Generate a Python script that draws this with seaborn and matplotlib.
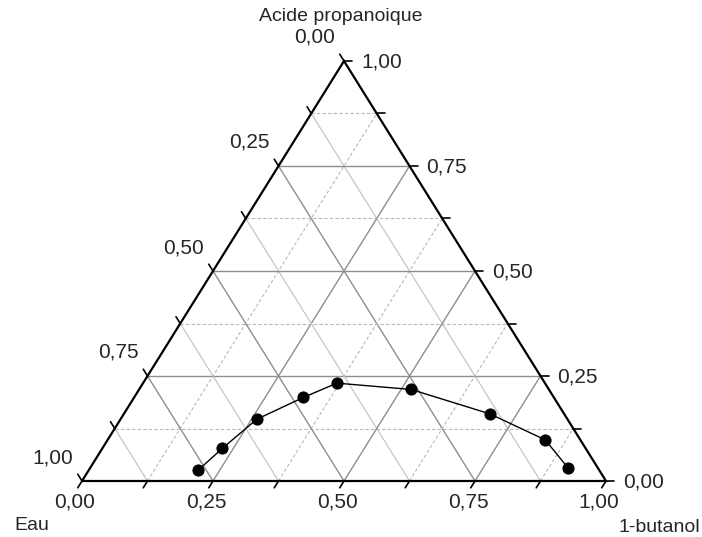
import numpy as np
import pandas as pd
import matplotlib
matplotlib.use("Agg")
import matplotlib.pyplot as plt
import seaborn as sns

# ---- data (mass fractions) ----
eau = [0.765, 0.693, 0.593, 0.478, 0.397, 0.263, 0.142, 0.067, 0.057]
butanol = [0.209, 0.229, 0.260, 0.323, 0.370, 0.519, 0.698, 0.835, 0.911]
acide = [0.026, 0.078, 0.147, 0.199, 0.233, 0.218, 0.160, 0.098, 0.032]

tick_values = [0.0, 0.25, 0.5, 0.75, 1.0]
tick_labels = ["0,00", "0,25", "0,50", "0,75", "1,00"]
minor_step = 0.125

sns.set_style("white")
plt.rcParams["font.family"] = ["Liberation Sans", "DejaVu Sans"]

W, H = 702, 537
fig = plt.figure(figsize=(W / 100, H / 100), dpi=100)
ax = fig.add_axes([0, 0, 1, 1])

# pixel geometry of the triangle
x0_px, base_px_from_top = 82, 481
sx, sy = 524.0, 420.0
ax.set_xlim(-x0_px / sx, (W - x0_px) / sx)
yb = H - base_px_from_top
ax.set_ylim(-yb / sy, (H - yb) / sy)
ax.axis("off")


def tern(a, b):
    """acid fraction a, butanol fraction b -> cartesian (u, h)"""
    a = np.asarray(a, float)
    b = np.asarray(b, float)
    return b + a / 2.0, a


def px(dx, dy):
    """pixel offset (dy downward) -> data offset"""
    return dx / sx, -dy / sy


dark = "#8e8e8e"
light = "#c6c6c6"
dash_c = "#b8b8b8"
dash = (0, (3, 2))

levels = np.arange(minor_step, 1.0, minor_step)
for v in levels:
    major = abs((v / 0.25) - round(v / 0.25)) < 1e-9
    # constant acid (horizontal)
    u1, h1 = tern(v, 0.0)
    u2, h2 = tern(v, 1 - v)
    if major:
        ax.plot([u1, u2], [h1, h2], color=dark, lw=1.0, zorder=1)
    else:
        ax.plot([u1, u2], [h1, h2], color=dash_c, lw=0.8, ls=dash, zorder=1)
    # constant water
    u1, h1 = tern(1 - v, 0.0)
    u2, h2 = tern(0.0, 1 - v)
    ax.plot([u1, u2], [h1, h2], color=dark if major else light,
            lw=1.0 if major else 0.9, zorder=1)
    # constant butanol
    u1, h1 = tern(0.0, v)
    u2, h2 = tern(1 - v, v)
    if major:
        ax.plot([u1, u2], [h1, h2], color=dark, lw=1.0, zorder=1)
    else:
        ax.plot([u1, u2], [h1, h2], color=dash_c, lw=0.8, ls=dash, zorder=1)

# triangle outline
cu, ch = tern([0, 0, 1, 0], [0, 1, 0, 0])
ax.plot(cu, ch, color="black", lw=1.6, zorder=3, solid_joinstyle="miter")

# ticks
tl = 8.0
all_ticks = np.arange(0, 1.0 + 1e-9, minor_step)
dir_b = np.array([-262.0, 420.0]); dir_b /= np.linalg.norm(dir_b)  # px, dy down
for t in all_ticks:
    # bottom axis (butanol), tick down-left
    u, h = tern(0.0, t)
    du, dh = px(dir_b[0] * tl, dir_b[1] * tl)
    ax.plot([u, u + du], [h, h + dh], color="black", lw=1.2, zorder=3)
    # left axis (water), tick up-left
    u, h = tern(1 - t, 0.0)
    du, dh = px(-abs(dir_b[0]) * tl, -dir_b[1] * tl)
    ax.plot([u, u + du], [h, h + dh], color="black", lw=1.2, zorder=3)
    # right axis (acid), tick to the right
    u, h = tern(t, 1 - t)
    du, dh = px(tl, 0)
    ax.plot([u, u + du], [h, h + dh], color="black", lw=1.2, zorder=3)

fs = 15
for t, lab in zip(tick_values, tick_labels):
    # bottom labels
    u, h = tern(0.0, t)
    du, dh = px(-7, 21)
    ax.text(u + du, h + dh, lab, ha="center", va="center", fontsize=fs)
    # left labels (water)
    u, h = tern(1 - t, 0.0)
    du, dh = px(-29.5, -23.5)
    ax.text(u + du, h + dh, lab, ha="center", va="center", fontsize=fs)
    # right labels (acid)
    u, h = tern(t, 1 - t)
    du, dh = px(17, 1)
    ax.text(u + du, h + dh, lab, ha="left", va="center", fontsize=fs)

# corner titles
tfs = 14
u, h = tern(1.0, 0.0)
du, dh = px(-3, -44)
ax.text(u + du, h + dh, "Acide propanoique", ha="center", va="center", fontsize=tfs)
u, h = tern(0.0, 0.0)
du, dh = px(-50, 44)
ax.text(u + du, h + dh, "Eau", ha="center", va="center", fontsize=tfs)
u, h = tern(0.0, 1.0)
du, dh = px(53, 46)
ax.text(u + du, h + dh, "1-butanol", ha="center", va="center", fontsize=tfs)

# data curve
pu, ph = tern(acide, butanol)
df = pd.DataFrame({"u": pu, "h": ph, "eau": eau})
sns.lineplot(data=df, x="u", y="h", sort=False, estimator=None, color="black",
             lw=1.0, marker="o", markersize=8, markeredgecolor="black",
             markerfacecolor="black", ax=ax, zorder=5)

ax.set_xlim(-x0_px / sx, (W - x0_px) / sx)
ax.set_ylim(-yb / sy, (H - yb) / sy)
ax.axis("off")
fig.savefig("out.png", dpi=100)
